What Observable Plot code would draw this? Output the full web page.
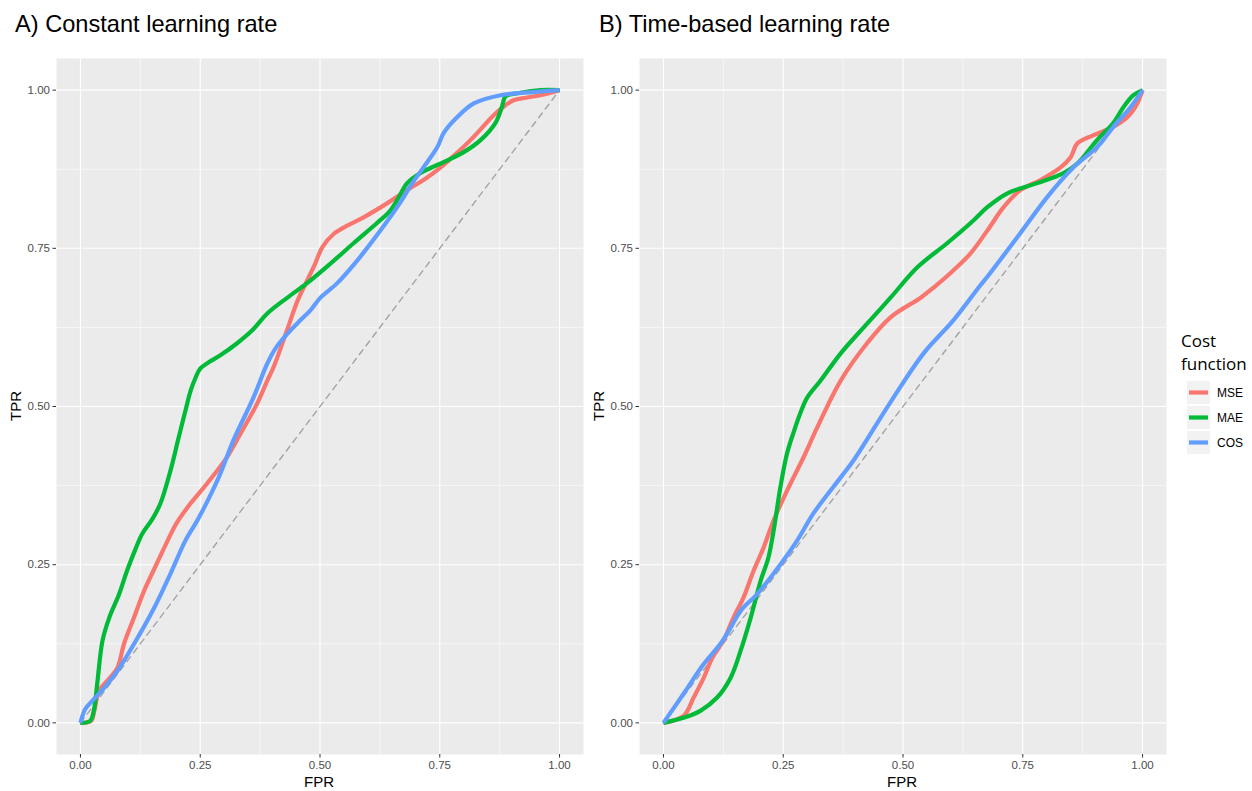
<!DOCTYPE html>
<html>
<head>
<meta charset="utf-8">
<script src="https://cdn.jsdelivr.net/npm/d3@7"></script>
<script src="https://cdn.jsdelivr.net/npm/@observablehq/plot@0.6"></script>
<style>
  html, body { margin: 0; padding: 0; background: #fff; }
  body { width: 1252px; height: 791px; position: relative; overflow: hidden; font-family: "Liberation Sans", Arial, sans-serif; }
  .panel { position: absolute; top: 0; }
  .title { position: absolute; top: 11px; font-size: 23.6px; color: #000; white-space: nowrap; }
  .xlab { position: absolute; top: 773px; font-size: 15px; color: #000; transform: translateX(-50%); }
  .ylab { position: absolute; font-size: 15px; color: #000; transform: translate(-50%,-50%) rotate(-90deg); }
  svg [aria-label="x-axis tick label"], svg [aria-label="y-axis tick label"] { fill: #4d4d4d; }
  svg [aria-label="x-axis tick"], svg [aria-label="y-axis tick"] { stroke: #333333; }
  #legend { position: absolute; left: 1181px; top: 329px; }
  #legend .lt { font-family: "Open Sans", "Noto Sans", sans-serif; font-size: 17px; line-height: 23px; color: #000; }
  #legend .row { display: flex; align-items: center; margin-left: 6px; }
  #legend .row span { font-size: 12px; color: #000; margin-left: 7px; }
</style>
</head>
<body>
<div class="title" style="left:15px">A) Constant learning rate</div>
<div class="title" style="left:599px">B) Time-based learning rate</div>
<div id="pA" class="panel" style="left:0px"></div>
<div id="pB" class="panel" style="left:583px"></div>
<div class="xlab" style="left:319px">FPR</div>
<div class="xlab" style="left:902px">FPR</div>
<div class="ylab" style="left:15px; top:406px">TPR</div>
<div class="ylab" style="left:598px; top:406px">TPR</div>
<div id="legend"></div>
<script>
// ---- Data ----
const costFunctions = ["MSE", "MAE", "COS"];
const colors = ["#F8766D", "#00BA38", "#619CFF"];
const xTicks = [0, 0.25, 0.5, 0.75, 1];
const minorTicks = [0.125, 0.375, 0.625, 0.875];
const diagonal = [0, 1];

// Panel A: constant learning rate
const fprA_MSE = [0, 0.022, 0.029, 0.039, 0.06, 0.077, 0.091, 0.112, 0.133, 0.152, 0.182, 0.2, 0.23, 0.264, 0.306, 0.334, 0.369, 0.39, 0.403, 0.431, 0.452, 0.473, 0.49, 0.505, 0.529, 0.56, 0.591, 0.64, 0.682, 0.72, 0.752, 0.785, 0.814, 0.84, 0.862, 0.885, 0.904, 0.93, 0.96, 1];
const tprA_MSE = [0, 0.003, 0.019, 0.051, 0.07, 0.087, 0.125, 0.167, 0.209, 0.24, 0.288, 0.315, 0.347, 0.378, 0.42, 0.457, 0.505, 0.541, 0.562, 0.62, 0.665, 0.699, 0.726, 0.752, 0.773, 0.787, 0.799, 0.821, 0.842, 0.86, 0.878, 0.9, 0.921, 0.942, 0.96, 0.975, 0.984, 0.988, 0.992, 1];
const fprA_MAE = [0, 0.02, 0.028, 0.035, 0.046, 0.06, 0.081, 0.097, 0.115, 0.129, 0.15, 0.167, 0.188, 0.205, 0.218, 0.23, 0.24, 0.25, 0.27, 0.292, 0.327, 0.358, 0.39, 0.43, 0.473, 0.522, 0.57, 0.619, 0.645, 0.661, 0.682, 0.71, 0.766, 0.8, 0.835, 0.866, 0.88, 0.887, 0.912, 0.96, 1];
const tprA_MAE = [0, 0.003, 0.02, 0.062, 0.13, 0.166, 0.204, 0.24, 0.275, 0.299, 0.322, 0.347, 0.399, 0.451, 0.49, 0.525, 0.545, 0.56, 0.571, 0.581, 0.6, 0.62, 0.647, 0.671, 0.695, 0.726, 0.758, 0.79, 0.808, 0.826, 0.853, 0.869, 0.889, 0.902, 0.921, 0.948, 0.974, 0.99, 0.995, 1.0, 1];
const fprA_COS = [0, 0.01, 0.025, 0.049, 0.077, 0.112, 0.154, 0.188, 0.219, 0.244, 0.27, 0.292, 0.319, 0.361, 0.39, 0.41, 0.438, 0.46, 0.48, 0.501, 0.536, 0.578, 0.626, 0.668, 0.69, 0.716, 0.745, 0.758, 0.786, 0.821, 0.877, 0.946, 1];
const tprA_COS = [0, 0.022, 0.035, 0.055, 0.082, 0.125, 0.182, 0.236, 0.288, 0.32, 0.358, 0.394, 0.446, 0.514, 0.568, 0.595, 0.62, 0.637, 0.652, 0.672, 0.695, 0.731, 0.778, 0.823, 0.85, 0.878, 0.91, 0.932, 0.957, 0.979, 0.992, 0.997, 1];

// Panel B: time-based learning rate
const fprB_MSE = [0, 0.042, 0.063, 0.084, 0.102, 0.125, 0.146, 0.167, 0.188, 0.209, 0.23, 0.258, 0.292, 0.321, 0.37, 0.425, 0.474, 0.537, 0.564, 0.605, 0.641, 0.676, 0.71, 0.745, 0.787, 0.829, 0.85, 0.864, 0.898, 0.939, 0.968, 0.989, 1];
const tprB_MSE = [0, 0.011, 0.04, 0.071, 0.103, 0.13, 0.166, 0.198, 0.24, 0.277, 0.32, 0.367, 0.419, 0.467, 0.541, 0.6, 0.641, 0.672, 0.688, 0.715, 0.742, 0.778, 0.815, 0.842, 0.858, 0.878, 0.894, 0.916, 0.929, 0.942, 0.957, 0.979, 1];
const fprB_MAE = [0, 0.042, 0.077, 0.112, 0.14, 0.161, 0.182, 0.203, 0.219, 0.23, 0.244, 0.258, 0.272, 0.286, 0.3, 0.328, 0.37, 0.418, 0.474, 0.53, 0.592, 0.647, 0.676, 0.718, 0.78, 0.835, 0.864, 0.905, 0.939, 0.96, 0.981, 1];
const tprB_MAE = [0, 0.008, 0.019, 0.04, 0.071, 0.114, 0.166, 0.225, 0.261, 0.304, 0.372, 0.426, 0.46, 0.49, 0.514, 0.541, 0.584, 0.625, 0.672, 0.72, 0.758, 0.794, 0.815, 0.837, 0.853, 0.869, 0.884, 0.921, 0.948, 0.973, 0.992, 1];
const fprB_COS = [0, 0.042, 0.084, 0.119, 0.14, 0.161, 0.196, 0.23, 0.279, 0.313, 0.37, 0.397, 0.474, 0.543, 0.605, 0.662, 0.676, 0.745, 0.801, 0.856, 0.905, 0.939, 0.975, 1];
const tprB_COS = [0, 0.046, 0.093, 0.125, 0.15, 0.177, 0.204, 0.236, 0.288, 0.331, 0.388, 0.415, 0.507, 0.584, 0.636, 0.692, 0.705, 0.774, 0.831, 0.878, 0.91, 0.942, 0.973, 1];

function table(series) {
  const rows = [];
  series.forEach(([name, fx, ty]) => fx.forEach((f, i) => rows.push({cost: name, fpr: f, tpr: ty[i]})));
  return rows;
}
const dataA = table([["MSE", fprA_MSE, tprA_MSE], ["MAE", fprA_MAE, tprA_MAE], ["COS", fprA_COS, tprA_COS]]);
const dataB = table([["MSE", fprB_MSE, tprB_MSE], ["MAE", fprB_MAE, tprB_MAE], ["COS", fprB_COS, tprB_COS]]);

function panel(data) {
  return Plot.plot({
    width: 590,
    height: 791,
    marginLeft: 56,
    marginRight: 7,
    marginTop: 58,
    marginBottom: 37,
    style: {fontFamily: "'Liberation Sans', Arial, sans-serif", fontSize: "11.5px", background: "transparent"},
    x: {domain: [-0.05, 1.05]},
    y: {domain: [-0.05, 1.05]},
    color: {domain: costFunctions, range: colors},
    marks: [
      Plot.frame({fill: "#EBEBEB", stroke: null}),
      Plot.ruleX(minorTicks, {stroke: "#ffffff", strokeWidth: 0.55}),
      Plot.ruleY(minorTicks, {stroke: "#ffffff", strokeWidth: 0.55}),
      Plot.ruleX(xTicks, {stroke: "#ffffff", strokeWidth: 1.1}),
      Plot.ruleY(xTicks, {stroke: "#ffffff", strokeWidth: 1.1}),
      Plot.axisX({ticks: xTicks, tickFormat: d3.format(".2f"), tickSize: 3.5, tickPadding: 3, label: null}),
      Plot.axisY({ticks: xTicks, tickFormat: d3.format(".2f"), tickSize: 3.5, tickPadding: 3, label: null}),
      Plot.line(diagonal, {x: d => d, y: d => d, stroke: "#a3a3a3", strokeWidth: 1.4, strokeDasharray: "6,5"}),
      Plot.line(data, {x: "fpr", y: "tpr", z: "cost", stroke: "cost", strokeWidth: 4.2, curve: "catmull-rom", strokeLinecap: "butt"})
    ]
  });
}
document.getElementById("pA").appendChild(panel(dataA));
document.getElementById("pB").appendChild(panel(dataB));

// Legend
const leg = document.getElementById("legend");
leg.innerHTML = '<div class="lt">Cost<br>function</div>';
const box = document.createElement("div");
box.style.marginTop = "5px";
costFunctions.forEach((name, i) => {
  const row = document.createElement("div");
  row.className = "row";
  row.style.height = "25px";
  row.innerHTML = `<svg width="23" height="23"><rect width="23" height="23" fill="#F2F2F2"></rect><line x1="2" x2="21" y1="11.5" y2="11.5" stroke="${colors[i]}" stroke-width="4.2"></line></svg><span>${name}</span>`;
  box.appendChild(row);
});
leg.appendChild(box);
</script>
</body>
</html>
